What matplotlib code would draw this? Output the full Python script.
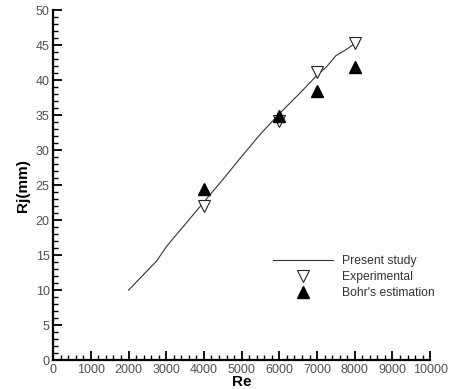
import matplotlib
matplotlib.use("Agg")
import matplotlib.pyplot as plt
from matplotlib.ticker import MultipleLocator

plt.rcParams['font.family'] = ['Liberation Sans', 'DejaVu Sans']

# Present study (numerical jet radius curve)
re_model = [2000, 2500, 2750, 3000, 3500, 4000, 4500, 5000, 5500, 6000,
            6500, 7000, 7250, 7500, 7750, 8000]
rj_model = [10.0, 12.8, 14.2, 16.2, 19.4, 22.6, 25.8, 29.1, 32.3, 35.2,
            37.9, 40.7, 41.9, 43.5, 44.3, 45.2]

# Experimental measurements
re_exp = [4000, 6000, 7000, 8000]
rj_exp = [22.0, 34.1, 41.2, 45.3]

# Bohr's estimation
re_bohr = [4000, 6000, 7000, 8000]
rj_bohr = [24.4, 34.9, 38.5, 41.9]

fig = plt.figure(figsize=(4.5, 3.89), dpi=100)
ax = fig.add_axes([0.118, 0.074, 0.838, 0.900])

ax.plot(re_model, rj_model, color='#333333', lw=0.8, label='Present study')
ax.plot(re_exp, rj_exp, linestyle='none', marker='v', markersize=8.5,
        markerfacecolor='white', markeredgecolor='#222222', markeredgewidth=0.8,
        label='Experimental')
ax.plot(re_bohr, rj_bohr, linestyle='none', marker='^', markersize=8.5,
        color='black', label="Bohr's estimation")

ax.set_xlim(0, 10000)
ax.set_ylim(0, 50)
ax.xaxis.set_major_locator(MultipleLocator(1000))
ax.xaxis.set_minor_locator(MultipleLocator(200))
ax.yaxis.set_major_locator(MultipleLocator(5))
ax.yaxis.set_minor_locator(MultipleLocator(1))

for side in ('top', 'right'):
    ax.spines[side].set_visible(False)
for side in ('left', 'bottom'):
    ax.spines[side].set_linewidth(1.6)

ax.tick_params(which='major', direction='in', length=6.5, width=1.3,
               labelsize=9, labelcolor='#505050', pad=2.5)
ax.tick_params(which='minor', direction='in', length=3.5, width=1.0)

ax.set_xlabel('Re', fontsize=11, fontweight='bold', labelpad=-0.5)
ax.set_ylabel('Rj(mm)', fontsize=11, fontweight='bold', labelpad=4)

leg = ax.legend(loc='upper left', bbox_to_anchor=(0.567, 0.318), frameon=False,
                fontsize=8.7, handlelength=5.0, handletextpad=0.75,
                labelspacing=0.33, numpoints=1, borderpad=0)
for t in leg.get_texts():
    t.set_color('#333333')

fig.savefig('out.png', dpi=100)
